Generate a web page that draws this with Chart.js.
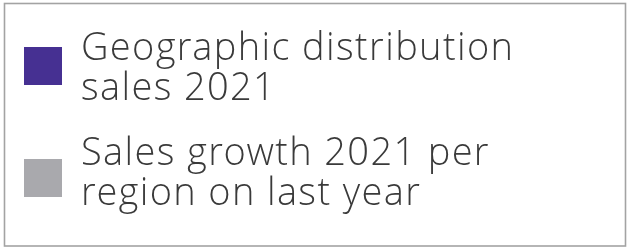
<!DOCTYPE html>
<html>
<head>
<meta charset="utf-8">
<script src="https://cdn.jsdelivr.net/npm/chart.js@4"></script>
<style>
  html, body { margin: 0; padding: 0; background: #ffffff; }
  #wrap { width: 627px; height: 249px; position: relative; }
</style>
</head>
<body>
<div id="wrap"><canvas id="c"></canvas></div>
<script>
// Data (the reference shows only the legend of the chart)
const categories = [];
const seriesNames = [
  ["Geographic distribution", "sales 2021"],
  ["Sales growth 2021 per", "region on last year"]
];
const seriesColors = ["#463092", "#a9a9ad"];
const seriesValues = [[], []];

const legendBoxPlugin = {
  id: 'legendBox',
  afterDraw(chart) {
    const ctx = chart.ctx;
    ctx.save();
    // frame
    ctx.strokeStyle = '#a3a3a3';
    ctx.lineWidth = 1.6;
    ctx.strokeRect(4.5, 3.5, 621, 242.5);
    const items = chart.data.datasets;
    ctx.font = '300 38px "Open Sans Light", "Open Sans"';
    if ('letterSpacing' in ctx) ctx.letterSpacing = '1.35px';
    ctx.textBaseline = 'alphabetic';
    items.forEach((ds, i) => {
      const boxTop = 47 + i * 112;
      ctx.fillStyle = ds.backgroundColor;
      ctx.fillRect(24, boxTop, 38, 38);
      ctx.fillStyle = '#3a3a3a';
      const lines = Array.isArray(ds.label) ? ds.label : [ds.label];
      lines.forEach((line, j) => {
        ctx.fillText(line, 81, 60 + i * 105 + j * 40);
      });
    });
    ctx.restore();
  }
};

new Chart(document.getElementById('c'), {
  type: 'bar',
  data: {
    labels: categories,
    datasets: seriesNames.map((name, i) => ({
      label: name,
      data: seriesValues[i],
      backgroundColor: seriesColors[i]
    }))
  },
  options: {
    responsive: true,
    maintainAspectRatio: false,
    animation: false,
    plugins: { legend: { display: false }, tooltip: { enabled: false } },
    scales: { x: { display: false }, y: { display: false } }
  },
  plugins: [legendBoxPlugin]
});
</script>
</body>
</html>
